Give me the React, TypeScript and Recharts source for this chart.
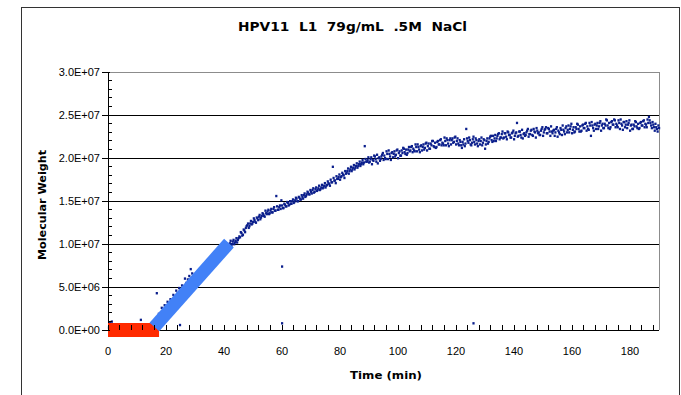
import { ScatterChart, Scatter, XAxis, YAxis, ReferenceLine, Label } from "recharts";

// molecular weight values are in units of 1e6
const MW_UNIT = 1e6;

// [time (min), MW]
const lagPoints: [number, number][] = [
  [0.3, 0.3], [0.7, 0.9], [1.3, 1.0], [2, 0.2], [3, 0.1], [4, 0.3], [5, 0.2], [6, 0.4],
  [7, 0.1], [8, 0.3], [9, 0.2], [10, 0.4], [11.3, 1.2], [12, 0.3], [13, 0.5], [14, 0.4],
  [15, 0.6], [16, 0.8],
];

const risePoints: [number, number][] = [
  [17, 1.0], [17.5, 1.9], [18, 1.7], [18.5, 2.6], [19, 2.4], [19.5, 2.9], [20, 2.7], [20.5, 3.3],
  [21, 3.1], [21.5, 3.6], [22, 3.5], [22.5, 4.1], [23, 3.9], [23.5, 4.6], [24, 4.3], [24.5, 4.9],
  [25, 4.7], [25.5, 5.2], [26, 5.1], [26.5, 6.0], [27, 5.5], [27.5, 5.9], [28, 6.3], [28.5, 7.1],
  [29, 6.6], [29.5, 6.2], [30, 6.1], [30.5, 6.0], [31, 6.4], [31.5, 6.3], [32, 6.8], [32.5, 6.6],
  [33, 7.0], [33.5, 6.9], [34, 7.5], [34.5, 7.3], [35, 7.7], [35.5, 7.6], [36, 8.2], [36.5, 8.0],
  [37, 8.5], [37.5, 8.4], [38, 8.9], [38.5, 8.8], [39, 9.2], [39.5, 9.1], [40, 9.6], [40.5, 9.5],
  [41, 9.9], [41.5, 9.8],
];

const growthPoints: [number, number][] = [
  [42, 10.1], [42.5, 9.8], [43, 10.3], [43.5, 10.0], [44, 10.4], [44.5, 10.2], [45, 10.7], [45.5, 10.8],
  [46, 11.3], [46.5, 11.1], [47, 11.6], [47.5, 11.9], [48, 12.2], [48.5, 11.9], [49, 12.4], [49.5, 12.3],
  [50, 12.6], [50.5, 12.8], [51, 12.5], [51.5, 13.0], [52, 13.2], [52.5, 12.9], [53, 13.3], [53.5, 13.5],
  [54, 13.2], [54.5, 13.6], [55, 13.8], [55.5, 13.5], [56, 13.9], [56.5, 13.7], [57, 14.1], [57.5, 13.9],
  [58, 15.6], [58.5, 14.0], [59, 14.3], [59.5, 14.1], [60, 14.5], [60.5, 14.2], [61, 14.6], [61.5, 14.4],
  [62, 14.8], [62.5, 14.6], [63, 14.7], [63.5, 15.0], [64, 14.8], [64.5, 15.1], [65, 15.3], [65.5, 15.0],
  [66, 15.4], [66.5, 15.2], [67, 15.5], [67.5, 15.7], [68, 15.5], [68.5, 15.8], [69, 16.0], [69.5, 15.8],
  [70, 16.1], [70.5, 16.3], [71, 16.0], [71.5, 16.4], [72, 16.2], [72.5, 16.5], [73, 16.3], [73.5, 16.6],
  [74, 16.5], [74.5, 16.8], [75, 16.6], [75.5, 16.9], [76, 17.1], [76.5, 16.8], [77, 17.2], [77.5, 19.0],
  [78, 17.4], [78.5, 17.1], [79, 17.6], [79.5, 17.8], [80, 17.5], [80.5, 17.9], [81, 18.1], [81.5, 17.7],
  [82, 18.2], [82.5, 18.5], [83, 18.2], [83.5, 18.7], [84, 18.5], [84.5, 18.9], [85, 18.7], [85.5, 19.1],
  [86, 18.9], [86.5, 19.3], [87, 19.1], [87.5, 19.5], [88, 19.3], [88.5, 21.4], [89, 19.6], [89.5, 19.8],
  [90, 19.5],
];

const growthPointsB: [number, number][] = [
  [42.25, 10.4], [42.75, 10.0], [43.25, 10.5], [43.75, 10.2], [44.25, 10.7], [44.75, 10.5], [45.25, 10.9], [45.75, 11.4],
  [46.25, 11.0], [46.75, 11.7], [47.25, 11.4], [47.75, 12.1], [48.25, 12.4], [48.75, 12.1], [49.25, 12.7], [49.75, 12.4],
  [50.25, 13.0], [50.75, 12.6], [51.25, 13.1], [51.75, 12.8], [52.25, 13.4], [52.75, 13.1], [53.25, 13.6], [53.75, 13.3],
  [54.25, 13.9], [54.75, 13.5], [55.25, 14.0], [55.75, 13.6], [56.25, 14.1], [56.75, 13.7], [57.25, 14.3], [57.75, 13.9],
  [58.25, 14.4], [58.75, 14.0], [59.25, 14.5], [59.75, 15.1], [60.25, 14.2], [60.75, 14.7], [61.25, 14.4], [61.75, 14.9],
  [62.25, 14.5], [62.75, 15.0], [63.25, 14.7], [63.75, 15.2], [64.25, 14.9], [64.75, 15.4], [65.25, 15.0], [65.75, 15.5],
  [66.25, 15.2], [66.75, 15.7], [67.25, 15.3], [67.75, 15.9], [68.25, 15.6], [68.75, 16.1], [69.25, 15.8], [69.75, 16.3],
  [70.25, 15.9], [70.75, 16.5], [71.25, 16.1], [71.75, 16.6], [72.25, 16.3], [72.75, 16.8], [73.25, 16.4], [73.75, 16.9],
  [74.25, 16.6], [74.75, 17.1], [75.25, 16.8], [75.75, 17.3], [76.25, 17.0], [76.75, 17.5], [77.25, 17.2], [77.75, 17.7],
  [78.25, 17.4], [78.75, 17.9], [79.25, 17.6], [79.75, 18.1], [80.25, 17.8], [80.75, 18.3], [81.25, 18.0], [81.75, 18.5],
  [82.25, 18.3], [82.75, 18.8], [83.25, 18.5], [83.75, 19.0], [84.25, 18.7], [84.75, 19.2], [85.25, 18.9], [85.75, 19.4],
  [86.25, 19.1], [86.75, 19.6], [87.25, 19.3], [87.75, 19.8], [88.25, 19.5], [88.75, 19.9], [89.25, 19.6], [89.75, 20.1],
];

const plateauPoints: [number, number][] = [
  [90.5, 19.9], [91, 19.3], [91.5, 19.7], [92, 20.2], [92.5, 19.6], [93, 19.4], [93.5, 20.1], [94, 19.9],
  [94.5, 20.4], [95, 19.8], [95.5, 20.0], [96, 20.8], [96.5, 19.9], [97, 20.5], [97.5, 19.8], [98, 20.7],
  [98.5, 20.5], [99, 20.2], [99.5, 20.9], [100, 20.0], [100.5, 20.8], [101, 20.3], [101.5, 20.6], [102, 21.1],
  [102.5, 20.5], [103, 20.4], [103.5, 21.0], [104, 20.8], [104.5, 21.3], [105, 20.7], [105.5, 20.9], [106, 21.6],
  [106.5, 20.8], [107, 21.3], [107.5, 20.7], [108, 21.5], [108.5, 21.3], [109, 21.0], [109.5, 21.7], [110, 20.9],
  [110.5, 21.7], [111, 21.1], [111.5, 21.5], [112, 22.0], [112.5, 21.3], [113, 21.2], [113.5, 21.9], [114, 21.6],
  [114.5, 22.1], [115, 21.5], [115.5, 21.7], [116, 22.4], [116.5, 21.5], [117, 22.1], [117.5, 21.4], [118, 22.3],
  [118.5, 22.1], [119, 21.8], [119.5, 22.4], [120, 21.6], [120.5, 22.3], [121, 21.5], [121.5, 21.9], [122, 21.2],
  [122.5, 21.6], [123, 21.4], [123.5, 23.4], [124, 22.0], [124.5, 22.4], [125, 21.6], [125.5, 21.8], [126, 22.5],
  [126.5, 21.6], [127, 22.1], [127.5, 21.4], [128, 22.2], [128.5, 22.0], [129, 21.5], [129.5, 22.2], [130, 21.1],
  [130.5, 22.0], [131, 21.7], [131.5, 22.3], [132, 22.6], [132.5, 21.9], [133, 22.0], [133.5, 22.7], [134, 22.3],
  [134.5, 22.8], [135, 22.2], [135.5, 22.4], [136, 23.1], [136.5, 22.4], [137, 22.9], [137.5, 22.2], [138, 23.0],
  [138.5, 22.7], [139, 22.4], [139.5, 23.0], [140, 22.2], [140.5, 22.9], [141, 24.1], [141.5, 22.6], [142, 23.1],
  [142.5, 22.4], [143, 22.3], [143.5, 22.9], [144, 22.7], [144.5, 23.2], [145, 22.5], [145.5, 22.8], [146, 23.3],
  [146.5, 22.6], [147, 23.1], [147.5, 22.4], [148, 23.2], [148.5, 23.0], [149, 22.7], [149.5, 23.4], [150, 22.6],
  [150.5, 23.3], [151, 23.6], [151.5, 22.9], [152, 23.4], [152.5, 22.6], [153, 23.1], [153.5, 23.2], [154, 22.6],
  [154.5, 23.4], [155, 22.5], [155.5, 23.0], [156, 23.5], [156.5, 22.7], [157, 23.3], [157.5, 22.8], [158, 23.7],
  [158.5, 23.3], [159, 23.0], [159.5, 23.7], [160, 22.9], [160.5, 23.6], [161, 23.1], [161.5, 23.4], [162, 23.9],
  [162.5, 23.1], [163, 23.1], [163.5, 23.8], [164, 23.5], [164.5, 24.0], [165, 23.2], [165.5, 23.4], [166, 24.1],
  [166.5, 22.6], [167, 23.8], [167.5, 23.2], [168, 24.0], [168.5, 23.8], [169, 23.4], [169.5, 24.1], [170, 23.2],
  [170.5, 24.0], [171, 23.5], [171.5, 23.8], [172, 24.4], [172.5, 23.5], [173, 23.4], [173.5, 24.2], [174, 23.9],
  [174.5, 24.5], [175, 23.6], [175.5, 23.8], [176, 24.4], [176.5, 23.4], [177, 24.0], [177.5, 23.3], [178, 24.2],
  [178.5, 23.9], [179, 23.5], [179.5, 24.1], [180, 23.2], [180.5, 23.9], [181, 23.4], [181.5, 23.7], [182, 24.2],
  [182.5, 23.5], [183, 23.4], [183.5, 24.1], [184, 23.8], [184.5, 24.3], [185, 23.6], [185.5, 23.9], [186, 24.5],
  [186.5, 24.8], [187, 24.1], [187.5, 23.5], [188, 23.9], [188.5, 23.2], [189, 23.6], [189.5, 23.1], [190, 23.5],
];

const plateauPointsB: [number, number][] = [
  [90.25, 19.6], [90.75, 20.1], [91.25, 19.8], [91.75, 20.3], [92.25, 19.9], [92.75, 20.4], [93.25, 20.0], [93.75, 19.7],
  [94.25, 20.2], [94.75, 20.6], [95.25, 20.3], [95.75, 19.9], [96.25, 20.5], [96.75, 20.9], [97.25, 20.2], [97.75, 20.6],
  [98.25, 20.1], [98.75, 20.8], [99.25, 20.4], [99.75, 21.0], [100.25, 20.6], [100.75, 20.3], [101.25, 20.9], [101.75, 21.2],
  [102.25, 20.7], [102.75, 21.0], [103.25, 20.6], [103.75, 21.3], [104.25, 20.9], [104.75, 21.4], [105.25, 21.1], [105.75, 20.8],
  [106.25, 21.3], [106.75, 21.6], [107.25, 21.0], [107.75, 21.4], [108.25, 20.9], [108.75, 21.6], [109.25, 21.2], [109.75, 21.8],
  [110.25, 21.4], [110.75, 21.1], [111.25, 21.7], [111.75, 22.0], [112.25, 21.4], [112.75, 21.8], [113.25, 21.3], [113.75, 22.0],
  [114.25, 21.6], [114.75, 22.2], [115.25, 21.8], [115.75, 21.5], [116.25, 22.0], [116.75, 22.3], [117.25, 21.7], [117.75, 22.1],
  [118.25, 21.6], [118.75, 22.3], [119.25, 21.9], [119.75, 22.5], [120.25, 22.0], [120.75, 21.7], [121.25, 22.1], [121.75, 21.5],
  [122.25, 21.9], [122.75, 22.2], [123.25, 21.7], [123.75, 22.3], [124.25, 21.8], [124.75, 22.1], [125.25, 21.5], [125.75, 22.2],
  [126.25, 21.9], [126.75, 22.3], [127.25, 21.7], [127.75, 22.0], [128.25, 21.6], [128.75, 22.4], [129.25, 21.8], [129.75, 22.1],
  [130.25, 21.6], [130.75, 22.3], [131.25, 21.9], [131.75, 22.5], [132.25, 22.1], [132.75, 22.6], [133.25, 22.3], [133.75, 22.0],
  [134.25, 22.6], [134.75, 22.9], [135.25, 22.4], [135.75, 22.8], [136.25, 22.3], [136.75, 22.9], [137.25, 22.5], [137.75, 23.1],
  [138.25, 22.7], [138.75, 22.4], [139.25, 22.9], [139.75, 23.2], [140.25, 22.6], [140.75, 23.0], [141.25, 22.5], [141.75, 23.1],
  [142.25, 22.7], [142.75, 23.3], [143.25, 22.8], [143.75, 22.6], [144.25, 23.0], [144.75, 23.4], [145.25, 22.8], [145.75, 23.2],
  [146.25, 22.7], [146.75, 23.4], [147.25, 23.0], [147.75, 23.5], [148.25, 22.9], [148.75, 22.7], [149.25, 23.2], [149.75, 23.6],
  [150.25, 23.0], [150.75, 23.4], [151.25, 22.9], [151.75, 23.5], [152.25, 23.1], [152.75, 23.7], [153.25, 22.9], [153.75, 23.3],
  [154.25, 23.0], [154.75, 23.6], [155.25, 23.2], [155.75, 22.8], [156.25, 23.3], [156.75, 23.8], [157.25, 23.1], [157.75, 23.5],
  [158.25, 23.0], [158.75, 23.8], [159.25, 23.4], [159.75, 24.0], [160.25, 23.3], [160.75, 23.0], [161.25, 23.6], [161.75, 24.0],
  [162.25, 23.4], [162.75, 23.7], [163.25, 23.2], [163.75, 23.9], [164.25, 23.5], [164.75, 24.1], [165.25, 23.7], [165.75, 23.3],
  [166.25, 23.8], [166.75, 24.2], [167.25, 23.5], [167.75, 23.9], [168.25, 23.4], [168.75, 24.1], [169.25, 23.7], [169.75, 24.3],
  [170.25, 23.8], [170.75, 23.5], [171.25, 24.0], [171.75, 24.5], [172.25, 23.8], [172.75, 24.1], [173.25, 23.6], [173.75, 24.3],
  [174.25, 23.9], [174.75, 24.4], [175.25, 24.0], [175.75, 23.6], [176.25, 24.1], [176.75, 24.5], [177.25, 23.8], [177.75, 24.2],
  [178.25, 23.6], [178.75, 24.3], [179.25, 23.9], [179.75, 24.4], [180.25, 23.8], [180.75, 23.4], [181.25, 23.9], [181.75, 24.3],
  [182.25, 23.7], [182.75, 24.0], [183.25, 23.5], [183.75, 24.2], [184.25, 23.8], [184.75, 24.4], [185.25, 24.0], [185.75, 23.6],
  [186.25, 24.1], [186.75, 24.4], [187.25, 23.8], [187.75, 24.2], [188.25, 23.6], [188.75, 24.0], [189.25, 23.4], [189.75, 23.8],
];

const strayPoints: [number, number][] = [
  [16.8, 4.3], [24.8, 0.6], [60, 7.4], [60, 0.8], [126, 0.8],
];

// hand-drawn guide lines: lag (red) and linear rise (blue)
const lagLine: [number, number][] = [[0, 0], [17.6, 0]];
const riseLine: [number, number][] = [[16, 0.35], [41.7, 10.1]];

const xTicks = [
  0, 4, 8, 12, 16, 20, 24, 28, 32, 36, 40, 44, 48, 52, 56, 60, 64, 68, 72, 76, 80, 84, 88, 92,
  96, 100, 104, 108, 112, 116, 120, 124, 128, 132, 136, 140, 144, 148, 152, 156, 160, 164, 168,
  172, 176, 180, 184, 188,
];
const yTicks = [
  0, 1, 2, 3, 4, 5, 6, 7, 8, 9, 10, 11, 12, 13, 14, 15, 16, 17, 18, 19, 20, 21, 22, 23, 24, 25,
  26, 27, 28, 29, 30,
].map((v) => v * MW_UNIT);
const yGrid = [5, 10, 15, 20, 25].map((v) => v * MW_UNIT);

const toRows = (pts: [number, number][]) => pts.map(([t, mw]) => ({ t, mw: mw * MW_UNIT }));

const allPoints = toRows([
  ...lagPoints,
  ...risePoints,
  ...growthPoints,
  ...growthPointsB,
  ...plateauPoints,
  ...plateauPointsB,
  ...strayPoints,
]);

const TICK_FONT = "'Liberation Sans', Arial, sans-serif";
const BOLD_FONT = "'DejaVu Sans', Verdana, sans-serif";

const sci = (v: number) => {
  if (v === 0) return "0.0E+00";
  const e = Math.floor(Math.log10(v));
  return (v / 10 ** e).toFixed(1) + "E+" + String(e).padStart(2, "0");
};

const XTick = ({ x, y, payload }: any) => {
  const v = payload.value;
  return (
    <g>
      <line x1={x} x2={x} y1={y} y2={y - 5} stroke="#000" shapeRendering="crispEdges" />
      {v % 20 === 0 && (
        <text x={x} y={y + 25} textAnchor="middle" fontFamily={TICK_FONT} fontSize={11} fill="#000">
          {v}
        </text>
      )}
    </g>
  );
};

const YTick = ({ x, y, payload }: any) => {
  const v = payload.value;
  const major = v % (5 * MW_UNIT) === 0;
  return (
    <g>
      {major ? (
        <line x1={x - 6} x2={x + 2} y1={y} y2={y} stroke="#000" shapeRendering="crispEdges" />
      ) : (
        <line x1={x} x2={x + 4} y1={y} y2={y} stroke="#000" shapeRendering="crispEdges" />
      )}
      {major && (
        <text x={x - 8} y={y + 4} textAnchor="end" fontFamily={TICK_FONT} fontSize={11} fill="#000">
          {sci(v)}
        </text>
      )}
    </g>
  );
};

const Dot = ({ cx, cy }: any) => (
  <rect x={cx - 1} y={cy - 1} width={2.2} height={2.4} fill="#0B1F8C" />
);

const NoDot = () => <g />;

const XTitle = ({ viewBox }: any) => (
  <text
    x={viewBox.x + viewBox.width / 2 + 2.5}
    y={378.5}
    textAnchor="middle"
    fontFamily={BOLD_FONT}
    fontWeight="bold"
    fontSize={11}
    textLength={72}
    lengthAdjust="spacingAndGlyphs"
  >
    Time (min)
  </text>
);

const YTitle = ({ viewBox }: any) => {
  const cx = 46;
  const cy = viewBox.y + viewBox.height / 2 + 4;
  return (
    <text
      x={cx}
      y={cy}
      transform={`rotate(-90, ${cx}, ${cy})`}
      textAnchor="middle"
      fontFamily={BOLD_FONT}
      fontWeight="bold"
      fontSize={11}
      textLength={110}
      lengthAdjust="spacingAndGlyphs"
    >
      Molecular Weight
    </text>
  );
};

export default function App() {
  return (
    <div
      style={{
        position: "fixed",
        left: 0,
        top: 0,
        width: 681,
        height: 395,
        overflow: "hidden",
        background: "#fff",
      }}
    >
      <div
        style={{
          position: "absolute",
          left: 21,
          top: 7,
          width: 659,
          height: 420,
          boxSizing: "border-box",
          border: "1px solid #333",
        }}
      />
      <ScatterChart
        width={681}
        height={395}
        margin={{ top: 72, right: 22, bottom: 35, left: 28 }}
        style={{ position: "absolute", left: 0, top: 0 }}
      >
        <XAxis
          type="number"
          dataKey="t"
          domain={[0, 190]}
          ticks={xTicks}
          interval={0}
          tick={<XTick />}
          tickLine={false}
          tickSize={0}
          tickMargin={0}
          height={30}
          axisLine={{ stroke: "#000", shapeRendering: "crispEdges" }}
        >
          <Label content={<XTitle />} />
        </XAxis>
        <YAxis
          type="number"
          dataKey="mw"
          domain={[0, 30 * MW_UNIT]}
          ticks={yTicks}
          interval={0}
          tick={<YTick />}
          tickLine={false}
          tickSize={0}
          tickMargin={0}
          width={80}
          axisLine={{ stroke: "#000", shapeRendering: "crispEdges" }}
        >
          <Label content={<YTitle />} />
        </YAxis>
        {yGrid.map((v) => (
          <ReferenceLine key={v} y={v} stroke="#000" shapeRendering="crispEdges" />
        ))}
        <ReferenceLine y={30 * MW_UNIT} stroke="#8c8c8c" shapeRendering="crispEdges" />
        <ReferenceLine x={190} stroke="#8c8c8c" shapeRendering="crispEdges" />
        <Scatter data={allPoints} shape={<Dot />} isAnimationActive={false} />
        <Scatter
          data={toRows(lagLine)}
          line={{ stroke: "#FF2A00", strokeWidth: 14 }}
          shape={<NoDot />}
          isAnimationActive={false}
        />
        <Scatter
          data={toRows(riseLine)}
          line={{ stroke: "#4281F7", strokeWidth: 13 }}
          shape={<NoDot />}
          isAnimationActive={false}
        />
      </ScatterChart>
      <svg
        width={681}
        height={395}
        style={{ position: "absolute", left: 0, top: 0, pointerEvents: "none" }}
      >
        <text
          x={352.5}
          y={30.5}
          textAnchor="middle"
          fontFamily={BOLD_FONT}
          fontWeight="bold"
          fontSize={12}
          textLength={229}
          lengthAdjust="spacingAndGlyphs"
          xmlSpace="preserve"
          style={{ whiteSpace: "pre" }}
        >
          HPV11  L1  79g/mL  .5M  NaCl
        </text>
      </svg>
    </div>
  );
}
